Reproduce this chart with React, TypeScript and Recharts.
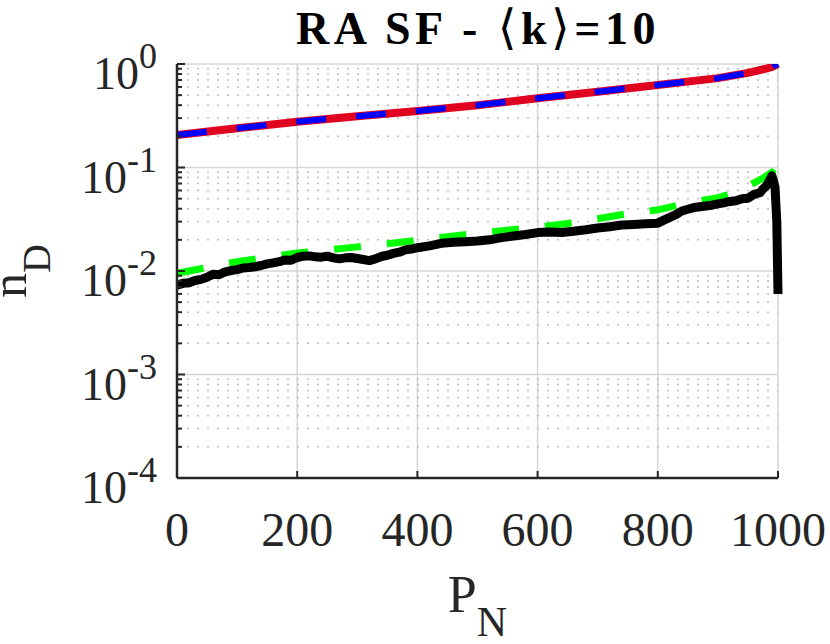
import React from 'react';
import { LineChart, Line, XAxis, YAxis, CartesianGrid, Label } from 'recharts';

// x positions and values
const redX = [0, 100, 200, 300, 400, 500, 600, 700, 800, 900, 950, 980, 990, 1000];
const redY = [0.206, 0.239, 0.277, 0.313, 0.352, 0.4, 0.466, 0.54, 0.627, 0.73, 0.82, 0.9, 0.935, 1.0];
const blueY = [0.206, 0.239, 0.277, 0.313, 0.352, 0.4, 0.466, 0.54, 0.627, 0.73, 0.82, 0.9, 0.935, 1.0];

const greenX = [0, 50, 100, 150, 200, 250, 300, 350, 400, 450, 500, 550, 600, 650, 700, 750, 800, 850, 900, 925, 950, 975, 990, 995];
const greenY = [0.0095, 0.0108, 0.0123, 0.0136, 0.0149, 0.016, 0.0171, 0.0183, 0.0198, 0.0214, 0.0232, 0.0248, 0.0266, 0.0288, 0.032, 0.0358, 0.039, 0.0455, 0.051, 0.057, 0.066, 0.079, 0.09, 0.086];

const blackX = [0, 10, 20, 30, 40, 50, 60, 70, 80, 90, 100, 110, 120, 130, 140, 150, 160, 170, 180, 190, 200, 210, 220, 230, 240, 250, 260, 270, 280, 290, 300, 310, 320, 330, 340, 350, 360, 370, 380, 390, 400, 420, 440, 460, 480, 500, 520, 540, 560, 580, 600, 620, 640, 660, 680, 700, 720, 740, 760, 780, 800, 810, 820, 830, 840, 850, 860, 870, 880, 890, 900, 910, 920, 930, 940, 950, 960, 970, 975, 980, 985, 990, 995, 998, 1000];
const blackY = [0.0073, 0.0076, 0.0077, 0.0081, 0.0083, 0.0087, 0.0093, 0.0092, 0.0098, 0.0101, 0.0103, 0.0107, 0.0108, 0.011, 0.0113, 0.0117, 0.012, 0.0123, 0.0128, 0.0127, 0.0135, 0.0139, 0.014, 0.0137, 0.0136, 0.0139, 0.0134, 0.0131, 0.0134, 0.0135, 0.0132, 0.0129, 0.0126, 0.0131, 0.0138, 0.0142, 0.0148, 0.0152, 0.016, 0.0163, 0.0168, 0.0175, 0.0185, 0.019, 0.0192, 0.0195, 0.02, 0.021, 0.0218, 0.0225, 0.0235, 0.0238, 0.0236, 0.0242, 0.025, 0.026, 0.0268, 0.0278, 0.0282, 0.0286, 0.029, 0.031, 0.033, 0.035, 0.038, 0.0395, 0.041, 0.0418, 0.0425, 0.0432, 0.0445, 0.0455, 0.047, 0.0478, 0.05, 0.0505, 0.055, 0.057, 0.062, 0.066, 0.073, 0.083, 0.065, 0.03, 0.006];

const xTicks = [0, 200, 400, 600, 800, 1000];
const decades = [1e-4, 1e-3, 1e-2, 1e-1, 1];
const minorSteps = [2, 3, 4, 5, 6, 7, 8, 9];

const minorTicks: number[] = [];
decades.slice(0, -1).forEach((d) => minorSteps.forEach((m) => minorTicks.push(m * d)));
const yTicks = [...decades, ...minorTicks];

const toPoints = (xs: number[], ys: number[]) => xs.map((x, i) => ({ x, y: ys[i] }));

const FONT = '"Liberation Serif", "Times New Roman", "DejaVu Serif", serif';
const AXIS = '#262626';

const YTick = (props: any) => {
  const { x, y, payload } = props;
  const major = decades.includes(payload.value);
  const exp = Math.round(Math.log10(payload.value));
  return (
    <g>
      <line x1={x} x2={x + (major ? 8 : 5)} y1={y} y2={y} stroke={AXIS} strokeWidth={2} />
      {major && (
        <text x={x - 20} y={y + 25} textAnchor="end" fontSize={46} fill={AXIS} fontFamily={FONT}>
          10<tspan dy={-21} fontSize={36}>{String(exp)}</tspan>
        </text>
      )}
    </g>
  );
};

const XTick = (props: any) => {
  const { x, y, payload } = props;
  return (
    <g>
      <line x1={x} x2={x} y1={y} y2={y - 7} stroke={AXIS} strokeWidth={2} />
      <text x={x} y={y + 68} textAnchor="middle" fontSize={48} fill={AXIS} fontFamily={FONT}>
        {payload.value}
      </text>
    </g>
  );
};

const XLabel = (props: any) => {
  const { x, y, width } = props.viewBox;
  return (
    <text x={x + width / 2} y={y + 134} textAnchor="middle" fontSize={52} fill={AXIS} fontFamily={FONT}>
      P<tspan dy={24} fontSize={42}>N</tspan>
    </text>
  );
};

const YLabel = (props: any) => {
  const { y, height } = props.viewBox;
  const cx = 26;
  const cy = y + height / 2;
  return (
    <text x={cx} y={cy} transform={`rotate(-90, ${cx}, ${cy})`} textAnchor="middle" fontSize={50} fill={AXIS} fontFamily={FONT}>
      n<tspan dy={24} fontSize={40}>D</tspan>
    </text>
  );
};

export default function App() {
  return (
    <div style={{ position: 'absolute', left: 0, top: 0, width: 830, height: 644, background: '#fff' }}>
      <LineChart width={830} height={644} margin={{ top: 64, right: 52, bottom: 66, left: 17 }}>
        <CartesianGrid horizontalValues={decades} verticalValues={xTicks} stroke="#d6d6d6" strokeWidth={1.5} />
        <CartesianGrid horizontalValues={minorTicks} vertical={false} stroke="#bdbdbd" strokeWidth={1.5} strokeDasharray="2 8" />
        <XAxis
          type="number"
          dataKey="x"
          domain={[0, 1000]}
          ticks={xTicks}
          interval={0}
          height={100}
          tickSize={0}
          tickMargin={0}
          tick={<XTick />}
          tickLine={false}
          axisLine={{ stroke: AXIS, strokeWidth: 2.5 }}
        >
          <Label content={<XLabel />} />
        </XAxis>
        <YAxis
          type="number"
          dataKey="y"
          scale="log"
          domain={[1e-4, 1]}
          allowDataOverflow
          ticks={yTicks}
          interval={0}
          width={160}
          tickSize={0}
          tickMargin={0}
          tick={<YTick />}
          tickLine={false}
          axisLine={{ stroke: AXIS, strokeWidth: 2.5 }}
        >
          <Label content={<YLabel />} />
        </YAxis>
        <Line data={toPoints(greenX, greenY)} dataKey="y" type="linear" stroke="#00ff00" strokeWidth={7} strokeDasharray="27 26" dot={false} isAnimationActive={false} />
        <Line data={toPoints(blackX, blackY)} dataKey="y" type="linear" stroke="#000000" strokeWidth={9} strokeLinejoin="round" dot={false} isAnimationActive={false} />
        <Line data={toPoints(redX, redY)} dataKey="y" type="linear" stroke="#e00320" strokeWidth={8} dot={false} isAnimationActive={false} />
        <Line data={toPoints(redX, blueY)} dataKey="y" type="linear" stroke="#0000ff" strokeWidth={6} strokeDasharray="30 30" dot={false} isAnimationActive={false} />
        <text x={478} y={44} textAnchor="middle" fontSize={46} letterSpacing={4.5} fontWeight="bold" fill="#000" fontFamily={FONT}>
          RA SF - <tspan fontWeight="normal" fontSize={48}>⟨</tspan>k<tspan fontWeight="normal" fontSize={48}>⟩</tspan>=10
        </text>
      </LineChart>
    </div>
  );
}
